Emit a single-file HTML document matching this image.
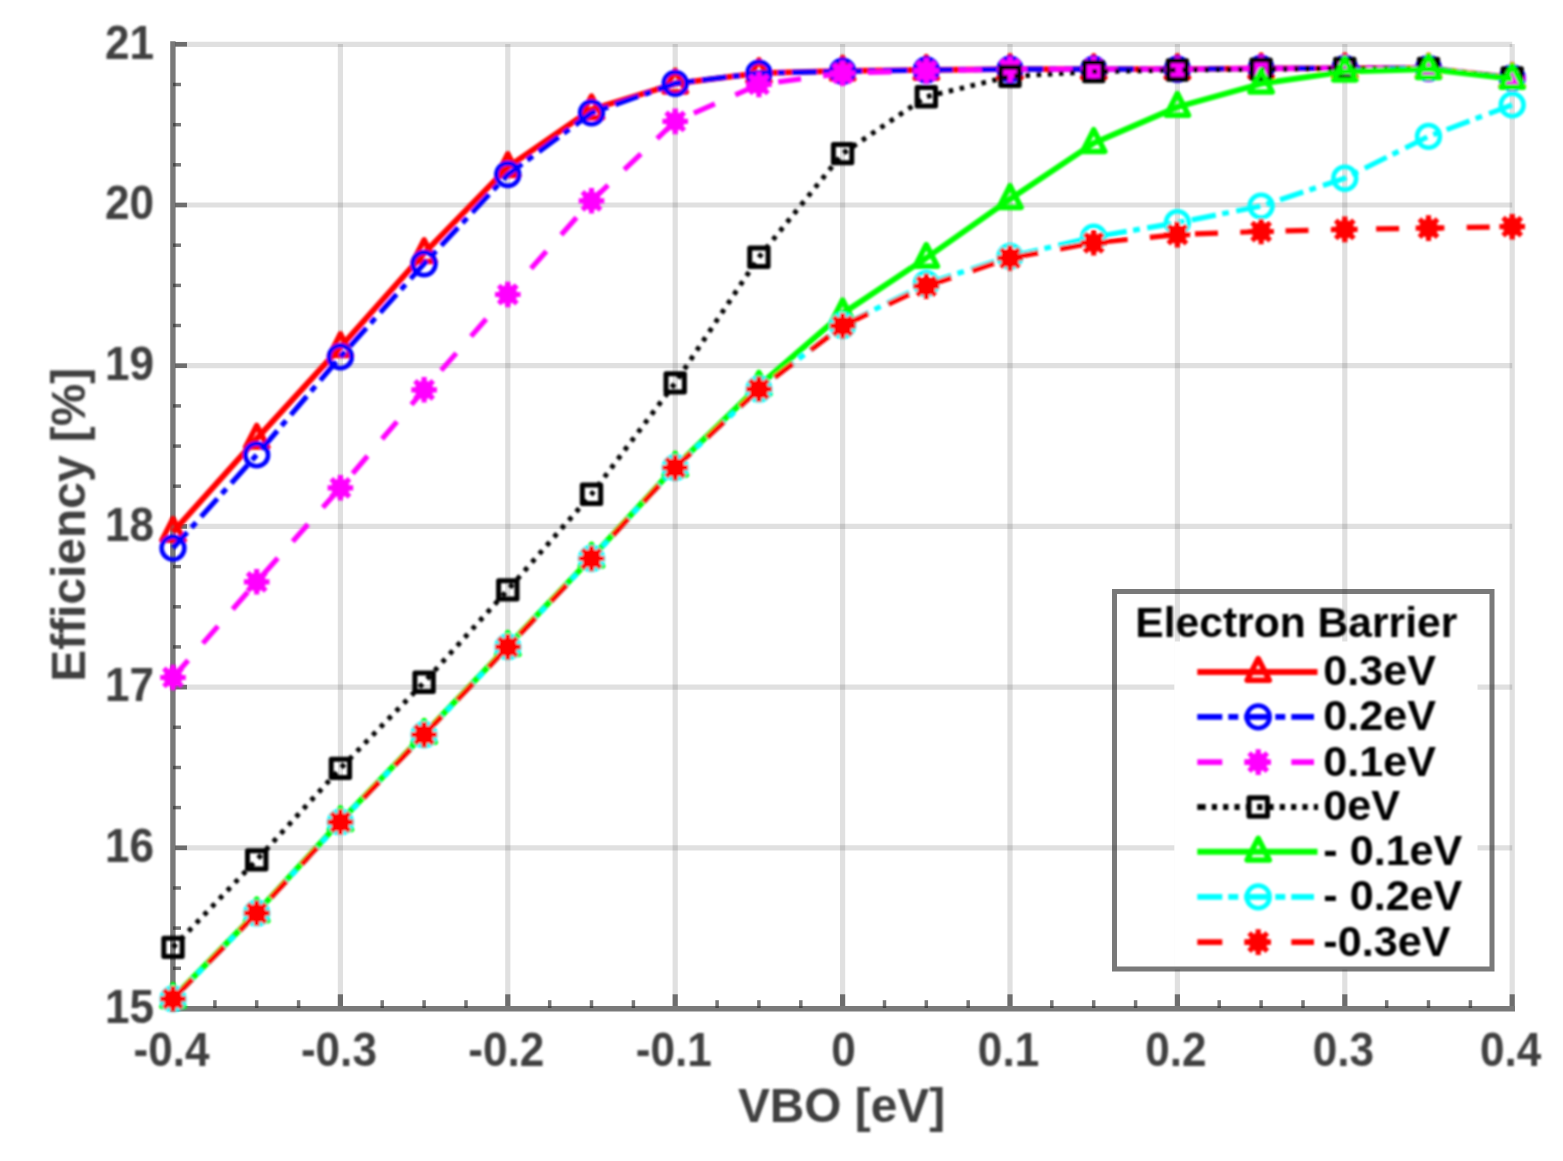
<!DOCTYPE html>
<html lang="en"><head><meta charset="utf-8"><title>Efficiency vs VBO</title>
<style>html,body{margin:0;padding:0;background:#fff}body{width:1563px;height:1161px;overflow:hidden}svg{display:block}</style>
</head><body>
<svg width="1563" height="1161" viewBox="0 0 1563 1161" font-family="'Liberation Sans', Arial, Helvetica, sans-serif" font-weight="bold">
<rect width="1563" height="1161" fill="#fff"/>
<defs><filter id="soft" filterUnits="userSpaceOnUse" x="0" y="0" width="1563" height="1161"><feGaussianBlur stdDeviation="0.85"/></filter></defs>
<g stroke="#262626" stroke-opacity="0.145" stroke-width="5.2" fill="none">
<path d="M340.4 44V1006"/>
<path d="M507.8 44V1006"/>
<path d="M675.2 44V1006"/>
<path d="M842.6 44V1006"/>
<path d="M1010.0 44V1006"/>
<path d="M1177.4 44V1006"/>
<path d="M1344.8 44V1006"/>
<path d="M1512.2 44V1006"/>
<path d="M175.5 847.8H1512.2"/>
<path d="M175.5 687.1H1512.2"/>
<path d="M175.5 526.4H1512.2"/>
<path d="M175.5 365.7H1512.2"/>
<path d="M175.5 205.0H1512.2"/>
<path d="M175.5 44.3H1512.2"/>
</g>
<g stroke="#262626" stroke-opacity="0.62" fill="none">
<path d="M172.9 41.3V1011.4" stroke-width="5.4"/>
<path d="M175.6 1008.7H1515" stroke-width="5.4"/>
<path d="M214.9 1008V1000.2" stroke-width="3.5"/>
<path d="M256.7 1008V1000.2" stroke-width="3.5"/>
<path d="M298.6 1008V1000.2" stroke-width="3.5"/>
<path d="M340.4 1006V994.3" stroke-width="5.2"/>
<path d="M382.2 1008V1000.2" stroke-width="3.5"/>
<path d="M424.1 1008V1000.2" stroke-width="3.5"/>
<path d="M466.0 1008V1000.2" stroke-width="3.5"/>
<path d="M507.8 1006V994.3" stroke-width="5.2"/>
<path d="M549.7 1008V1000.2" stroke-width="3.5"/>
<path d="M591.5 1008V1000.2" stroke-width="3.5"/>
<path d="M633.4 1008V1000.2" stroke-width="3.5"/>
<path d="M675.2 1006V994.3" stroke-width="5.2"/>
<path d="M717.1 1008V1000.2" stroke-width="3.5"/>
<path d="M758.9 1008V1000.2" stroke-width="3.5"/>
<path d="M800.8 1008V1000.2" stroke-width="3.5"/>
<path d="M842.6 1006V994.3" stroke-width="5.2"/>
<path d="M884.5 1008V1000.2" stroke-width="3.5"/>
<path d="M926.3 1008V1000.2" stroke-width="3.5"/>
<path d="M968.2 1008V1000.2" stroke-width="3.5"/>
<path d="M1010.0 1006V994.3" stroke-width="5.2"/>
<path d="M1051.8 1008V1000.2" stroke-width="3.5"/>
<path d="M1093.7 1008V1000.2" stroke-width="3.5"/>
<path d="M1135.6 1008V1000.2" stroke-width="3.5"/>
<path d="M1177.4 1006V994.3" stroke-width="5.2"/>
<path d="M1219.2 1008V1000.2" stroke-width="3.5"/>
<path d="M1261.1 1008V1000.2" stroke-width="3.5"/>
<path d="M1303.0 1008V1000.2" stroke-width="3.5"/>
<path d="M1344.8 1006V994.3" stroke-width="5.2"/>
<path d="M1386.7 1008V1000.2" stroke-width="3.5"/>
<path d="M1428.5 1008V1000.2" stroke-width="3.5"/>
<path d="M1470.4 1008V1000.2" stroke-width="3.5"/>
<path d="M1512.2 1006V994.3" stroke-width="5.2"/>
<path d="M173 968.3H181" stroke-width="3.5"/>
<path d="M173 928.1H181" stroke-width="3.5"/>
<path d="M173 888.0H181" stroke-width="3.5"/>
<path d="M175.2 847.8H187" stroke-width="4.6"/>
<path d="M173 807.6H181" stroke-width="3.5"/>
<path d="M173 767.5H181" stroke-width="3.5"/>
<path d="M173 727.3H181" stroke-width="3.5"/>
<path d="M175.2 687.1H187" stroke-width="4.6"/>
<path d="M173 646.9H181" stroke-width="3.5"/>
<path d="M173 606.8H181" stroke-width="3.5"/>
<path d="M173 566.6H181" stroke-width="3.5"/>
<path d="M175.2 526.4H187" stroke-width="4.6"/>
<path d="M173 486.2H181" stroke-width="3.5"/>
<path d="M173 446.1H181" stroke-width="3.5"/>
<path d="M173 405.9H181" stroke-width="3.5"/>
<path d="M175.2 365.7H187" stroke-width="4.6"/>
<path d="M173 325.5H181" stroke-width="3.5"/>
<path d="M173 285.4H181" stroke-width="3.5"/>
<path d="M173 245.2H181" stroke-width="3.5"/>
<path d="M175.2 205.0H187" stroke-width="4.6"/>
<path d="M173 164.8H181" stroke-width="3.5"/>
<path d="M173 124.7H181" stroke-width="3.5"/>
<path d="M173 84.5H181" stroke-width="3.5"/>
<path d="M175.2 44.3H187" stroke-width="4.6"/>
</g>
<g fill="#404040" font-size="47.2px" filter="url(#soft)">
<text transform="translate(154 1022.7) scale(0.935 1)" text-anchor="end">15</text>
<text transform="translate(154 862.0) scale(0.935 1)" text-anchor="end">16</text>
<text transform="translate(154 701.3) scale(0.935 1)" text-anchor="end">17</text>
<text transform="translate(154 540.6) scale(0.935 1)" text-anchor="end">18</text>
<text transform="translate(154 379.9) scale(0.935 1)" text-anchor="end">19</text>
<text transform="translate(154 219.2) scale(0.935 1)" text-anchor="end">20</text>
<text transform="translate(154 58.5) scale(0.935 1)" text-anchor="end">21</text>
<text transform="translate(171.5 1065.5) scale(0.935 1)" text-anchor="middle">-0.4</text>
<text transform="translate(338.9 1065.5) scale(0.935 1)" text-anchor="middle">-0.3</text>
<text transform="translate(506.3 1065.5) scale(0.935 1)" text-anchor="middle">-0.2</text>
<text transform="translate(673.7 1065.5) scale(0.935 1)" text-anchor="middle">-0.1</text>
<text transform="translate(843.6 1065.5) scale(0.935 1)" text-anchor="middle">0</text>
<text transform="translate(1008.5 1065.5) scale(0.935 1)" text-anchor="middle">0.1</text>
<text transform="translate(1175.9 1065.5) scale(0.935 1)" text-anchor="middle">0.2</text>
<text transform="translate(1343.3 1065.5) scale(0.935 1)" text-anchor="middle">0.3</text>
<text transform="translate(1510.7 1065.5) scale(0.935 1)" text-anchor="middle">0.4</text>
</g>
<text x="841.5" y="1121.5" text-anchor="middle" font-size="47.8px" fill="#404040" filter="url(#soft)">VBO [eV]</text>
<g filter="url(#soft)"><text transform="translate(84.7 524.7) rotate(-90)" text-anchor="middle" font-size="47.9px" fill="#404040">Efficiency [%]</text></g>
<g filter="url(#soft)">
<polyline points="173.0,532.0 256.7,438.8 340.4,347.2 424.1,253.2 507.8,167.2 591.5,109.4 675.2,83.7 758.9,73.2 842.6,70.8 926.3,70.0 1010.0,69.2 1093.7,69.2 1177.4,69.2 1261.1,68.4 1344.8,68.4 1428.5,68.4 1512.2,78.0" fill="none" stroke="#ff0000" stroke-width="5.8" stroke-linejoin="round"/>
<path d="M173.0 518.6L184.1 540.3L161.9 540.3Z" fill="none" stroke="#ff0000" stroke-width="5.5" stroke-linejoin="round"/>
<path d="M256.7 425.4L267.8 447.1L245.6 447.1Z" fill="none" stroke="#ff0000" stroke-width="5.5" stroke-linejoin="round"/>
<path d="M340.4 333.8L351.5 355.5L329.3 355.5Z" fill="none" stroke="#ff0000" stroke-width="5.5" stroke-linejoin="round"/>
<path d="M424.1 239.8L435.2 261.5L413.0 261.5Z" fill="none" stroke="#ff0000" stroke-width="5.5" stroke-linejoin="round"/>
<path d="M507.8 153.8L518.9 175.5L496.7 175.5Z" fill="none" stroke="#ff0000" stroke-width="5.5" stroke-linejoin="round"/>
<path d="M591.5 96.0L602.6 117.7L580.4 117.7Z" fill="none" stroke="#ff0000" stroke-width="5.5" stroke-linejoin="round"/>
<path d="M675.2 70.3L686.3 92.0L664.1 92.0Z" fill="none" stroke="#ff0000" stroke-width="5.5" stroke-linejoin="round"/>
<path d="M758.9 59.8L770.0 81.5L747.8 81.5Z" fill="none" stroke="#ff0000" stroke-width="5.5" stroke-linejoin="round"/>
<path d="M842.6 57.4L853.7 79.1L831.5 79.1Z" fill="none" stroke="#ff0000" stroke-width="5.5" stroke-linejoin="round"/>
<path d="M926.3 56.6L937.4 78.3L915.2 78.3Z" fill="none" stroke="#ff0000" stroke-width="5.5" stroke-linejoin="round"/>
<path d="M1010.0 55.8L1021.1 77.5L998.9 77.5Z" fill="none" stroke="#ff0000" stroke-width="5.5" stroke-linejoin="round"/>
<path d="M1093.7 55.8L1104.8 77.5L1082.6 77.5Z" fill="none" stroke="#ff0000" stroke-width="5.5" stroke-linejoin="round"/>
<path d="M1177.4 55.8L1188.5 77.5L1166.3 77.5Z" fill="none" stroke="#ff0000" stroke-width="5.5" stroke-linejoin="round"/>
<path d="M1261.1 55.0L1272.2 76.7L1250.0 76.7Z" fill="none" stroke="#ff0000" stroke-width="5.5" stroke-linejoin="round"/>
<path d="M1344.8 55.0L1355.9 76.7L1333.7 76.7Z" fill="none" stroke="#ff0000" stroke-width="5.5" stroke-linejoin="round"/>
<path d="M1428.5 55.0L1439.6 76.7L1417.4 76.7Z" fill="none" stroke="#ff0000" stroke-width="5.5" stroke-linejoin="round"/>
<path d="M1512.2 64.6L1523.3 86.3L1501.1 86.3Z" fill="none" stroke="#ff0000" stroke-width="5.5" stroke-linejoin="round"/>
<polyline points="173.0,548.1 256.7,454.9 340.4,356.9 424.1,263.7 507.8,174.5 591.5,112.9 675.2,83.4 758.9,73.2 842.6,71.3 926.3,70.0 1010.0,69.2 1093.7,69.2 1177.4,69.2 1261.1,68.4 1344.8,68.4 1428.5,68.4 1512.2,78.0" fill="none" stroke="#0000ff" stroke-width="5.2" stroke-dasharray="24.5 6.5 6.8 7.5" stroke-dashoffset="3.3" stroke-linejoin="round"/>
<circle cx="173.0" cy="548.1" r="11.4" fill="none" stroke="#0000ff" stroke-width="4.6"/>
<circle cx="256.7" cy="454.9" r="11.4" fill="none" stroke="#0000ff" stroke-width="4.6"/>
<circle cx="340.4" cy="356.9" r="11.4" fill="none" stroke="#0000ff" stroke-width="4.6"/>
<circle cx="424.1" cy="263.7" r="11.4" fill="none" stroke="#0000ff" stroke-width="4.6"/>
<circle cx="507.8" cy="174.5" r="11.4" fill="none" stroke="#0000ff" stroke-width="4.6"/>
<circle cx="591.5" cy="112.9" r="11.4" fill="none" stroke="#0000ff" stroke-width="4.6"/>
<circle cx="675.2" cy="83.4" r="11.4" fill="none" stroke="#0000ff" stroke-width="4.6"/>
<circle cx="758.9" cy="73.2" r="11.4" fill="none" stroke="#0000ff" stroke-width="4.6"/>
<circle cx="842.6" cy="71.3" r="11.4" fill="none" stroke="#0000ff" stroke-width="4.6"/>
<circle cx="926.3" cy="70.0" r="11.4" fill="none" stroke="#0000ff" stroke-width="4.6"/>
<circle cx="1010.0" cy="69.2" r="11.4" fill="none" stroke="#0000ff" stroke-width="4.6"/>
<circle cx="1093.7" cy="69.2" r="11.4" fill="none" stroke="#0000ff" stroke-width="4.6"/>
<circle cx="1177.4" cy="69.2" r="11.4" fill="none" stroke="#0000ff" stroke-width="4.6"/>
<circle cx="1261.1" cy="68.4" r="11.4" fill="none" stroke="#0000ff" stroke-width="4.6"/>
<circle cx="1344.8" cy="68.4" r="11.4" fill="none" stroke="#0000ff" stroke-width="4.6"/>
<circle cx="1428.5" cy="68.4" r="11.4" fill="none" stroke="#0000ff" stroke-width="4.6"/>
<circle cx="1512.2" cy="78.0" r="11.4" fill="none" stroke="#0000ff" stroke-width="4.6"/>
<polyline points="173.0,677.5 256.7,581.8 340.4,487.8 424.1,389.8 507.8,294.5 591.5,200.8 675.2,121.4 758.9,84.5 842.6,73.2 926.3,70.8 1010.0,69.2 1093.7,69.2 1177.4,69.2 1261.1,68.4 1344.8,68.4 1428.5,68.4 1512.2,78.0" fill="none" stroke="#ff00ff" stroke-width="5.2" stroke-dasharray="23 22.3" stroke-dashoffset="0.0" stroke-linejoin="round"/>
<path d="M160.2 677.5H185.8M173.0 664.7V690.3M163.9 668.4L182.1 686.5M163.9 686.5L182.1 668.4" fill="none" stroke="#ff00ff" stroke-width="5.2"/><circle cx="173.0" cy="677.5" r="9.4" fill="#ff00ff"/>
<path d="M243.9 581.8H269.5M256.7 569.0V594.6M247.6 572.8L265.8 590.9M247.6 590.9L265.8 572.8" fill="none" stroke="#ff00ff" stroke-width="5.2"/><circle cx="256.7" cy="581.8" r="9.4" fill="#ff00ff"/>
<path d="M327.6 487.8H353.2M340.4 475.0V500.6M331.3 478.8L349.5 496.9M331.3 496.9L349.5 478.8" fill="none" stroke="#ff00ff" stroke-width="5.2"/><circle cx="340.4" cy="487.8" r="9.4" fill="#ff00ff"/>
<path d="M411.3 389.8H436.9M424.1 377.0V402.6M415.0 380.8L433.2 398.9M415.0 398.9L433.2 380.8" fill="none" stroke="#ff00ff" stroke-width="5.2"/><circle cx="424.1" cy="389.8" r="9.4" fill="#ff00ff"/>
<path d="M495.0 294.5H520.6M507.8 281.7V307.3M498.7 285.5L516.9 303.6M498.7 303.6L516.9 285.5" fill="none" stroke="#ff00ff" stroke-width="5.2"/><circle cx="507.8" cy="294.5" r="9.4" fill="#ff00ff"/>
<path d="M578.7 200.8H604.3M591.5 188.0V213.6M582.4 191.8L600.6 209.9M582.4 209.9L600.6 191.8" fill="none" stroke="#ff00ff" stroke-width="5.2"/><circle cx="591.5" cy="200.8" r="9.4" fill="#ff00ff"/>
<path d="M662.4 121.4H688.0M675.2 108.6V134.2M666.1 112.4L684.3 130.5M666.1 130.5L684.3 112.4" fill="none" stroke="#ff00ff" stroke-width="5.2"/><circle cx="675.2" cy="121.4" r="9.4" fill="#ff00ff"/>
<path d="M746.1 84.5H771.7M758.9 71.7V97.3M749.8 75.4L768.0 93.5M749.8 93.5L768.0 75.4" fill="none" stroke="#ff00ff" stroke-width="5.2"/><circle cx="758.9" cy="84.5" r="9.4" fill="#ff00ff"/>
<path d="M829.8 73.2H855.4M842.6 60.4V86.0M833.5 64.2L851.7 82.3M833.5 82.3L851.7 64.2" fill="none" stroke="#ff00ff" stroke-width="5.2"/><circle cx="842.6" cy="73.2" r="9.4" fill="#ff00ff"/>
<path d="M913.5 70.8H939.1M926.3 58.0V83.6M917.2 61.8L935.4 79.9M917.2 79.9L935.4 61.8" fill="none" stroke="#ff00ff" stroke-width="5.2"/><circle cx="926.3" cy="70.8" r="9.4" fill="#ff00ff"/>
<path d="M997.2 69.2H1022.8M1010.0 56.4V82.0M1000.9 60.2L1019.1 78.3M1000.9 78.3L1019.1 60.2" fill="none" stroke="#ff00ff" stroke-width="5.2"/><circle cx="1010.0" cy="69.2" r="9.4" fill="#ff00ff"/>
<path d="M1080.9 69.2H1106.5M1093.7 56.4V82.0M1084.6 60.2L1102.8 78.3M1084.6 78.3L1102.8 60.2" fill="none" stroke="#ff00ff" stroke-width="5.2"/><circle cx="1093.7" cy="69.2" r="9.4" fill="#ff00ff"/>
<path d="M1164.6 69.2H1190.2M1177.4 56.4V82.0M1168.3 60.2L1186.5 78.3M1168.3 78.3L1186.5 60.2" fill="none" stroke="#ff00ff" stroke-width="5.2"/><circle cx="1177.4" cy="69.2" r="9.4" fill="#ff00ff"/>
<path d="M1248.3 68.4H1273.9M1261.1 55.6V81.2M1252.0 59.4L1270.2 77.5M1252.0 77.5L1270.2 59.4" fill="none" stroke="#ff00ff" stroke-width="5.2"/><circle cx="1261.1" cy="68.4" r="9.4" fill="#ff00ff"/>
<path d="M1332.0 68.4H1357.6M1344.8 55.6V81.2M1335.7 59.4L1353.9 77.5M1335.7 77.5L1353.9 59.4" fill="none" stroke="#ff00ff" stroke-width="5.2"/><circle cx="1344.8" cy="68.4" r="9.4" fill="#ff00ff"/>
<path d="M1415.7 68.4H1441.3M1428.5 55.6V81.2M1419.4 59.4L1437.6 77.5M1419.4 77.5L1437.6 59.4" fill="none" stroke="#ff00ff" stroke-width="5.2"/><circle cx="1428.5" cy="68.4" r="9.4" fill="#ff00ff"/>
<path d="M1499.4 78.0H1525.0M1512.2 65.2V90.8M1503.1 69.0L1521.3 87.1M1503.1 87.1L1521.3 69.0" fill="none" stroke="#ff00ff" stroke-width="5.2"/><circle cx="1512.2" cy="78.0" r="9.4" fill="#ff00ff"/>
<polyline points="173.0,947.4 256.7,859.9 340.4,768.4 424.1,682.3 507.8,589.9 591.5,494.3 675.2,382.9 758.9,257.2 842.6,153.6 926.3,96.7 1010.0,76.4 1093.7,71.6 1177.4,70.0 1261.1,69.2 1344.8,68.4 1428.5,68.4 1512.2,78.0" fill="none" stroke="#000000" stroke-width="4.9" stroke-dasharray="4.6 6.6" stroke-linejoin="round"/>
<rect x="163.8" y="938.2" width="18.4" height="18.4" fill="none" stroke="#000000" stroke-width="5.0" stroke-linejoin="round"/>
<rect x="247.5" y="850.7" width="18.4" height="18.4" fill="none" stroke="#000000" stroke-width="5.0" stroke-linejoin="round"/>
<rect x="331.2" y="759.2" width="18.4" height="18.4" fill="none" stroke="#000000" stroke-width="5.0" stroke-linejoin="round"/>
<rect x="414.9" y="673.1" width="18.4" height="18.4" fill="none" stroke="#000000" stroke-width="5.0" stroke-linejoin="round"/>
<rect x="498.6" y="580.7" width="18.4" height="18.4" fill="none" stroke="#000000" stroke-width="5.0" stroke-linejoin="round"/>
<rect x="582.3" y="485.1" width="18.4" height="18.4" fill="none" stroke="#000000" stroke-width="5.0" stroke-linejoin="round"/>
<rect x="666.0" y="373.7" width="18.4" height="18.4" fill="none" stroke="#000000" stroke-width="5.0" stroke-linejoin="round"/>
<rect x="749.7" y="248.0" width="18.4" height="18.4" fill="none" stroke="#000000" stroke-width="5.0" stroke-linejoin="round"/>
<rect x="833.4" y="144.4" width="18.4" height="18.4" fill="none" stroke="#000000" stroke-width="5.0" stroke-linejoin="round"/>
<rect x="917.1" y="87.5" width="18.4" height="18.4" fill="none" stroke="#000000" stroke-width="5.0" stroke-linejoin="round"/>
<rect x="1000.8" y="67.2" width="18.4" height="18.4" fill="none" stroke="#000000" stroke-width="5.0" stroke-linejoin="round"/>
<rect x="1084.5" y="62.4" width="18.4" height="18.4" fill="none" stroke="#000000" stroke-width="5.0" stroke-linejoin="round"/>
<rect x="1168.2" y="60.8" width="18.4" height="18.4" fill="none" stroke="#000000" stroke-width="5.0" stroke-linejoin="round"/>
<rect x="1251.9" y="60.0" width="18.4" height="18.4" fill="none" stroke="#000000" stroke-width="5.0" stroke-linejoin="round"/>
<rect x="1335.6" y="59.2" width="18.4" height="18.4" fill="none" stroke="#000000" stroke-width="5.0" stroke-linejoin="round"/>
<rect x="1419.3" y="59.2" width="18.4" height="18.4" fill="none" stroke="#000000" stroke-width="5.0" stroke-linejoin="round"/>
<rect x="1503.0" y="68.8" width="18.4" height="18.4" fill="none" stroke="#000000" stroke-width="5.0" stroke-linejoin="round"/>
<polyline points="173.0,998.1 256.7,912.4 340.4,821.3 424.1,733.9 507.8,646.1 591.5,557.7 675.2,466.8 758.9,385.8 842.6,313.5 926.3,258.0 1010.0,199.1 1093.7,143.1 1177.4,107.0 1261.1,83.7 1344.8,71.6 1428.5,69.2 1512.2,78.9" fill="none" stroke="#00ff00" stroke-width="5.8" stroke-linejoin="round"/>
<path d="M173.0 984.7L184.1 1006.4L161.9 1006.4Z" fill="none" stroke="#00ff00" stroke-width="5.5" stroke-linejoin="round"/>
<path d="M256.7 899.0L267.8 920.7L245.6 920.7Z" fill="none" stroke="#00ff00" stroke-width="5.5" stroke-linejoin="round"/>
<path d="M340.4 807.9L351.5 829.6L329.3 829.6Z" fill="none" stroke="#00ff00" stroke-width="5.5" stroke-linejoin="round"/>
<path d="M424.1 720.5L435.2 742.2L413.0 742.2Z" fill="none" stroke="#00ff00" stroke-width="5.5" stroke-linejoin="round"/>
<path d="M507.8 632.7L518.9 654.4L496.7 654.4Z" fill="none" stroke="#00ff00" stroke-width="5.5" stroke-linejoin="round"/>
<path d="M591.5 544.3L602.6 566.0L580.4 566.0Z" fill="none" stroke="#00ff00" stroke-width="5.5" stroke-linejoin="round"/>
<path d="M675.2 453.4L686.3 475.1L664.1 475.1Z" fill="none" stroke="#00ff00" stroke-width="5.5" stroke-linejoin="round"/>
<path d="M758.9 372.4L770.0 394.1L747.8 394.1Z" fill="none" stroke="#00ff00" stroke-width="5.5" stroke-linejoin="round"/>
<path d="M842.6 300.1L853.7 321.8L831.5 321.8Z" fill="none" stroke="#00ff00" stroke-width="5.5" stroke-linejoin="round"/>
<path d="M926.3 244.6L937.4 266.3L915.2 266.3Z" fill="none" stroke="#00ff00" stroke-width="5.5" stroke-linejoin="round"/>
<path d="M1010.0 185.7L1021.1 207.4L998.9 207.4Z" fill="none" stroke="#00ff00" stroke-width="5.5" stroke-linejoin="round"/>
<path d="M1093.7 129.7L1104.8 151.4L1082.6 151.4Z" fill="none" stroke="#00ff00" stroke-width="5.5" stroke-linejoin="round"/>
<path d="M1177.4 93.6L1188.5 115.3L1166.3 115.3Z" fill="none" stroke="#00ff00" stroke-width="5.5" stroke-linejoin="round"/>
<path d="M1261.1 70.3L1272.2 92.0L1250.0 92.0Z" fill="none" stroke="#00ff00" stroke-width="5.5" stroke-linejoin="round"/>
<path d="M1344.8 58.2L1355.9 79.9L1333.7 79.9Z" fill="none" stroke="#00ff00" stroke-width="5.5" stroke-linejoin="round"/>
<path d="M1428.5 55.8L1439.6 77.5L1417.4 77.5Z" fill="none" stroke="#00ff00" stroke-width="5.5" stroke-linejoin="round"/>
<path d="M1512.2 65.5L1523.3 87.2L1501.1 87.2Z" fill="none" stroke="#00ff00" stroke-width="5.5" stroke-linejoin="round"/>
<polyline points="173.0,998.9 256.7,913.2 340.4,822.1 424.1,734.7 507.8,646.9 591.5,558.5 675.2,467.6 758.9,389.2 842.6,325.5 926.3,283.7 1010.0,256.4 1093.7,237.1 1177.4,222.7 1261.1,206.1 1344.8,178.2 1428.5,136.4 1512.2,104.9" fill="none" stroke="#00ffff" stroke-width="5.2" stroke-dasharray="24.5 6.5 6.8 7.5" stroke-dashoffset="40.9" stroke-linejoin="round"/>
<circle cx="173.0" cy="998.9" r="11.4" fill="none" stroke="#00ffff" stroke-width="4.6"/>
<circle cx="256.7" cy="913.2" r="11.4" fill="none" stroke="#00ffff" stroke-width="4.6"/>
<circle cx="340.4" cy="822.1" r="11.4" fill="none" stroke="#00ffff" stroke-width="4.6"/>
<circle cx="424.1" cy="734.7" r="11.4" fill="none" stroke="#00ffff" stroke-width="4.6"/>
<circle cx="507.8" cy="646.9" r="11.4" fill="none" stroke="#00ffff" stroke-width="4.6"/>
<circle cx="591.5" cy="558.5" r="11.4" fill="none" stroke="#00ffff" stroke-width="4.6"/>
<circle cx="675.2" cy="467.6" r="11.4" fill="none" stroke="#00ffff" stroke-width="4.6"/>
<circle cx="758.9" cy="389.2" r="11.4" fill="none" stroke="#00ffff" stroke-width="4.6"/>
<circle cx="842.6" cy="325.5" r="11.4" fill="none" stroke="#00ffff" stroke-width="4.6"/>
<circle cx="926.3" cy="283.7" r="11.4" fill="none" stroke="#00ffff" stroke-width="4.6"/>
<circle cx="1010.0" cy="256.4" r="11.4" fill="none" stroke="#00ffff" stroke-width="4.6"/>
<circle cx="1093.7" cy="237.1" r="11.4" fill="none" stroke="#00ffff" stroke-width="4.6"/>
<circle cx="1177.4" cy="222.7" r="11.4" fill="none" stroke="#00ffff" stroke-width="4.6"/>
<circle cx="1261.1" cy="206.1" r="11.4" fill="none" stroke="#00ffff" stroke-width="4.6"/>
<circle cx="1344.8" cy="178.2" r="11.4" fill="none" stroke="#00ffff" stroke-width="4.6"/>
<circle cx="1428.5" cy="136.4" r="11.4" fill="none" stroke="#00ffff" stroke-width="4.6"/>
<circle cx="1512.2" cy="104.9" r="11.4" fill="none" stroke="#00ffff" stroke-width="4.6"/>
<polyline points="173.0,998.9 256.7,913.2 340.4,822.1 424.1,734.7 507.8,646.9 591.5,558.5 675.2,467.6 758.9,389.2 842.6,325.8 926.3,286.2 1010.0,258.0 1093.7,242.8 1177.4,234.6 1261.1,231.5 1344.8,229.4 1428.5,228.1 1512.2,226.7" fill="none" stroke="#ff0000" stroke-width="5.2" stroke-dasharray="23 22.3" stroke-dashoffset="40.5" stroke-linejoin="round"/>
<path d="M160.2 998.9H185.8M173.0 986.1V1011.7M163.9 989.8L182.1 1007.9M163.9 1007.9L182.1 989.8" fill="none" stroke="#ff0000" stroke-width="5.2"/><circle cx="173.0" cy="998.9" r="9.4" fill="#ff0000"/>
<path d="M243.9 913.2H269.5M256.7 900.4V926.0M247.6 904.2L265.8 922.3M247.6 922.3L265.8 904.2" fill="none" stroke="#ff0000" stroke-width="5.2"/><circle cx="256.7" cy="913.2" r="9.4" fill="#ff0000"/>
<path d="M327.6 822.1H353.2M340.4 809.3V834.9M331.3 813.0L349.5 831.1M331.3 831.1L349.5 813.0" fill="none" stroke="#ff0000" stroke-width="5.2"/><circle cx="340.4" cy="822.1" r="9.4" fill="#ff0000"/>
<path d="M411.3 734.7H436.9M424.1 721.9V747.5M415.0 725.6L433.2 743.7M415.0 743.7L433.2 725.6" fill="none" stroke="#ff0000" stroke-width="5.2"/><circle cx="424.1" cy="734.7" r="9.4" fill="#ff0000"/>
<path d="M495.0 646.9H520.6M507.8 634.1V659.7M498.7 637.9L516.9 656.0M498.7 656.0L516.9 637.9" fill="none" stroke="#ff0000" stroke-width="5.2"/><circle cx="507.8" cy="646.9" r="9.4" fill="#ff0000"/>
<path d="M578.7 558.5H604.3M591.5 545.7V571.3M582.4 549.5L600.6 567.6M582.4 567.6L600.6 549.5" fill="none" stroke="#ff0000" stroke-width="5.2"/><circle cx="591.5" cy="558.5" r="9.4" fill="#ff0000"/>
<path d="M662.4 467.6H688.0M675.2 454.8V480.4M666.1 458.5L684.3 476.6M666.1 476.6L684.3 458.5" fill="none" stroke="#ff0000" stroke-width="5.2"/><circle cx="675.2" cy="467.6" r="9.4" fill="#ff0000"/>
<path d="M746.1 389.2H771.7M758.9 376.4V402.0M749.8 380.1L768.0 398.2M749.8 398.2L768.0 380.1" fill="none" stroke="#ff0000" stroke-width="5.2"/><circle cx="758.9" cy="389.2" r="9.4" fill="#ff0000"/>
<path d="M829.8 325.8H855.4M842.6 313.0V338.6M833.5 316.8L851.7 334.9M833.5 334.9L851.7 316.8" fill="none" stroke="#ff0000" stroke-width="5.2"/><circle cx="842.6" cy="325.8" r="9.4" fill="#ff0000"/>
<path d="M913.5 286.2H939.1M926.3 273.4V299.0M917.2 277.1L935.4 295.2M917.2 295.2L935.4 277.1" fill="none" stroke="#ff0000" stroke-width="5.2"/><circle cx="926.3" cy="286.2" r="9.4" fill="#ff0000"/>
<path d="M997.2 258.0H1022.8M1010.0 245.2V270.8M1000.9 249.0L1019.1 267.1M1000.9 267.1L1019.1 249.0" fill="none" stroke="#ff0000" stroke-width="5.2"/><circle cx="1010.0" cy="258.0" r="9.4" fill="#ff0000"/>
<path d="M1080.9 242.8H1106.5M1093.7 230.0V255.6M1084.6 233.7L1102.8 251.8M1084.6 251.8L1102.8 233.7" fill="none" stroke="#ff0000" stroke-width="5.2"/><circle cx="1093.7" cy="242.8" r="9.4" fill="#ff0000"/>
<path d="M1164.6 234.6H1190.2M1177.4 221.8V247.4M1168.3 225.5L1186.5 243.6M1168.3 243.6L1186.5 225.5" fill="none" stroke="#ff0000" stroke-width="5.2"/><circle cx="1177.4" cy="234.6" r="9.4" fill="#ff0000"/>
<path d="M1248.3 231.5H1273.9M1261.1 218.7V244.3M1252.0 222.5L1270.2 240.6M1252.0 240.6L1270.2 222.5" fill="none" stroke="#ff0000" stroke-width="5.2"/><circle cx="1261.1" cy="231.5" r="9.4" fill="#ff0000"/>
<path d="M1332.0 229.4H1357.6M1344.8 216.6V242.2M1335.7 220.4L1353.9 238.5M1335.7 238.5L1353.9 220.4" fill="none" stroke="#ff0000" stroke-width="5.2"/><circle cx="1344.8" cy="229.4" r="9.4" fill="#ff0000"/>
<path d="M1415.7 228.1H1441.3M1428.5 215.3V240.9M1419.4 219.1L1437.6 237.2M1419.4 237.2L1437.6 219.1" fill="none" stroke="#ff0000" stroke-width="5.2"/><circle cx="1428.5" cy="228.1" r="9.4" fill="#ff0000"/>
<path d="M1499.4 226.7H1525.0M1512.2 213.9V239.5M1503.1 217.6L1521.3 235.7M1503.1 235.7L1521.3 217.6" fill="none" stroke="#ff0000" stroke-width="5.2"/><circle cx="1512.2" cy="226.7" r="9.4" fill="#ff0000"/>
</g>
<rect x="1174.3" y="641.5" width="303.2" height="328" fill="#fff"/>
<rect x="1114.5" y="591.5" width="377.5" height="377.5" fill="none" stroke="#262626" stroke-opacity="0.62" stroke-width="5"/>
<g filter="url(#soft)">
<text x="1135.3" y="636.8" font-size="42.6px" fill="#000">Electron Barrier</text>
<path d="M1197.3 672H1317.5" fill="none" stroke="#ff0000" stroke-width="5.9"/>
<path d="M1258.2 658.6L1269.3 680.3L1247.1 680.3Z" fill="none" stroke="#ff0000" stroke-width="5.5" stroke-linejoin="round"/>
<text transform="translate(1323.3 685.4) scale(1.02 1)" font-size="42.3px" fill="#000">0.3eV</text>
<path d="M1197.3 716.9H1314" fill="none" stroke="#0000ff" stroke-width="5.9" stroke-dasharray="25 6 10 6"/>
<circle cx="1258.2" cy="716.9" r="11.4" fill="none" stroke="#0000ff" stroke-width="4.6"/>
<text transform="translate(1323.3 730.3) scale(1.02 1)" font-size="42.3px" fill="#000">0.2eV</text>
<path d="M1197.3 762.1H1314" fill="none" stroke="#ff00ff" stroke-width="5.9" stroke-dasharray="25 22"/>
<path d="M1245.4 762.1H1271.0M1258.2 749.3V774.9M1249.1 753.0L1267.3 771.2M1249.1 771.2L1267.3 753.0" fill="none" stroke="#ff00ff" stroke-width="5.2"/><circle cx="1258.2" cy="762.1" r="9.4" fill="#ff00ff"/>
<text transform="translate(1323.3 775.5) scale(1.02 1)" font-size="42.3px" fill="#000">0.1eV</text>
<path d="M1197.3 807.0H1205.7" fill="none" stroke="#000" stroke-width="5.8"/><path d="M1211.8 807.0H1318" fill="none" stroke="#000000" stroke-width="5.8" stroke-dasharray="5.2 6.13"/>
<rect x="1249.0" y="797.8" width="18.4" height="18.4" fill="none" stroke="#000000" stroke-width="5.0" stroke-linejoin="round"/>
<text transform="translate(1323.3 820.4) scale(1.02 1)" font-size="42.3px" fill="#000">0eV</text>
<path d="M1197.3 851.7H1317.5" fill="none" stroke="#00ff00" stroke-width="5.9"/>
<path d="M1258.2 838.3L1269.3 860.0L1247.1 860.0Z" fill="none" stroke="#00ff00" stroke-width="5.5" stroke-linejoin="round"/>
<text transform="translate(1323.3 865.1) scale(1.02 1)" font-size="42.3px" fill="#000">- 0.1eV</text>
<path d="M1197.3 896.9H1314" fill="none" stroke="#00ffff" stroke-width="5.9" stroke-dasharray="25 6 10 6"/>
<circle cx="1258.2" cy="896.9" r="11.4" fill="none" stroke="#00ffff" stroke-width="4.6"/>
<text transform="translate(1323.3 910.3) scale(1.02 1)" font-size="42.3px" fill="#000">- 0.2eV</text>
<path d="M1197.3 942.1H1314" fill="none" stroke="#ff0000" stroke-width="5.9" stroke-dasharray="25 22"/>
<path d="M1245.4 942.1H1271.0M1258.2 929.3V954.9M1249.1 933.0L1267.3 951.2M1249.1 951.2L1267.3 933.0" fill="none" stroke="#ff0000" stroke-width="5.2"/><circle cx="1258.2" cy="942.1" r="9.4" fill="#ff0000"/>
<text transform="translate(1323.3 955.5) scale(1.02 1)" font-size="42.3px" fill="#000">-0.3eV</text>
</g>
</svg>
</body></html>
